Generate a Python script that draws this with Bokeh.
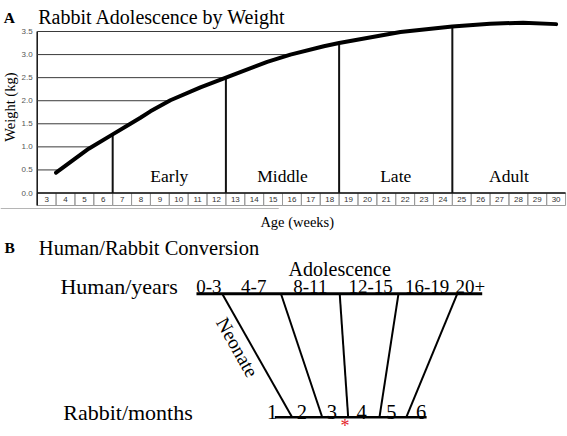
import numpy as np
from bokeh.plotting import figure
from bokeh.models import Range1d
from bokeh.core.properties import value
from bokeh.embed import file_html
from bokeh.resources import INLINE

# ---------------- Panel A data ----------------
curve_week = [3.5, 5.23, 6.5, 7.44, 7.97, 8.5, 9.56, 11.15, 12.5, 14.69, 15.92,
              17.69, 18.5, 21.75, 24.5, 26.5, 28.25, 30.0]
curve_weight = [0.44, 0.96, 1.27, 1.50, 1.63, 1.77, 2.01, 2.29, 2.50, 2.84, 3.00,
                3.18, 3.25, 3.49, 3.61, 3.67, 3.69, 3.66]
weeks = list(range(3, 31))
week_labels = [str(w) for w in weeks]
weight_ticks = [0.0, 0.5, 1.0, 1.5, 2.0, 2.5, 3.0, 3.5]
weight_tick_labels = ["%.1f" % t for t in weight_ticks]
phase_names = ["Early", "Middle", "Late", "Adult"]
phase_start = [6.5, 12.5, 18.5, 24.5]
phase_end = [12.5, 18.5, 24.5, 30.5]

# ---------------- Panel B data ----------------
human_ranges = ["0-3", "4-7", "8-11", "12-15", "16-19", "20+"]
human_label_age = [3.1, 6.15, 10.0, 14.1, 17.95, 20.9]
human_boundary_age = [4, 8, 12, 16, 20]
human_line_extent = [2.25, 21.7]
rabbit_months = [1, 2, 3, 4, 5, 6]
rabbit_labels = [str(m) for m in rabbit_months]
rabbit_boundary_month = [1.67, 2.68, 3.55, 4.6, 5.5]
rabbit_line_extent = [1.09, 6.18]
highlight_month = 3.44

SERIF = "Liberation Serif"
SANS = "Liberation Sans"
W, H = 567, 436

# Panel A scales (weeks / kg) span the whole canvas
x_lo, x_hi = weeks[0] - 0.5, weeks[-1] + 0.5
y_lo = -0.271          # bottom of the week cells
ax_x0, ax_x1 = 0.555, 30.603
ax_y0, ax_y1 = -5.277, 4.172

p = figure(width=W, height=H, x_range=Range1d(ax_x0, ax_x1), y_range=Range1d(ax_y0, ax_y1),
           output_backend="svg", toolbar_location=None, x_axis_type=None, y_axis_type=None,
           min_border=0, min_border_left=0, min_border_right=0, min_border_top=0, min_border_bottom=0)
p.outline_line_color = None
p.grid.visible = False
p.background_fill_color = "white"
p.border_fill_color = "white"

# Panel B scales (human age / link height)
bx_lo, bx_hi = -11.09, 27.506
by_lo, by_hi = -0.1564, 3.3768
p.extra_x_ranges = {"bx": Range1d(bx_lo, bx_hi)}
p.extra_y_ranges = {"by": Range1d(by_lo, by_hi)}
B = dict(x_range_name="bx", y_range_name="by")

# ================= Panel A =================
p.rect(x=weeks, y=y_lo / 2, width=1, height=-y_lo, fill_color=None,
       line_color="#9a9a9a", line_width=1)
p.text(x=weeks, y=y_lo / 2, text=week_labels, text_align="center", text_baseline="middle",
       text_font=value(SANS), text_font_size="8px", text_color="#333333")
# faint rule under the week strip
p.segment(x0=[ax_x0], y0=[-0.336], x1=[15.3], y1=[-0.336], line_color="#b5b5b5", line_width=1)

# y axis line + tick labels
p.segment(x0=[x_lo], y0=[y_lo], x1=[x_lo], y1=[weight_ticks[-1]], line_color="#111111", line_width=1.5)
p.text(x=[x_lo] * len(weight_ticks), y=weight_ticks, x_offset=-4.5, text=weight_tick_labels,
       text_align="right", text_baseline="middle", text_font=value(SANS), text_font_size="8px",
       text_color="#555555")

# horizontal guide lines from axis to curve
peak = int(np.argmax(curve_weight))
levels = weight_ticks[1:]
x_cross = np.interp(levels, curve_weight[:peak + 1], curve_week[:peak + 1])
p.segment(x0=[x_lo] * len(levels), y0=levels, x1=list(x_cross), y1=levels,
          line_color="#3a3a3a", line_width=1)
p.segment(x0=[x_lo], y0=[0], x1=[x_hi], y1=[0], line_color="#111111", line_width=1.5)

# phase boundaries up to the curve
top = np.interp(phase_start, curve_week, curve_weight)
p.segment(x0=phase_start, y0=[0] * 4, x1=phase_start, y1=list(top),
          line_color="#111111", line_width=2)

# growth curve
p.line(curve_week, curve_weight, line_color="black", line_width=4, line_join="round", line_cap="round")

# phase labels
phase_mid = [(s + e) / 2 for s, e in zip(phase_start, phase_end)]
p.text(x=phase_mid, y=[0.364] * 4, text=phase_names, text_align="center",
       text_baseline="alphabetic", text_font=value(SERIF), text_font_size="17.5px", text_color="black")

# titles and axis labels
p.text(x=[x_lo], y=[3.804], x_offset=1, text=["Rabbit Adolescence by Weight"], text_align="left",
       text_baseline="alphabetic", text_font=value(SERIF), text_font_size="20px", text_color="black")
p.text(x=[0.73], y=[3.797], text=["A"], text_align="left", text_baseline="alphabetic",
       text_font=value(SERIF), text_font_size="15.5px", text_font_style="bold", text_color="black")
p.text(x=[1.058], y=[1.86], text=["Weight (kg)"], angle=np.pi / 2, text_align="center",
       text_baseline="middle", text_font=value(SERIF), text_font_size="14.5px", text_color="black")
p.text(x=[16.28], y=[-0.618], text=["Age (weeks)"],
       text_align="center", text_baseline="alphabetic", text_font=value(SERIF),
       text_font_size="14.5px", text_color="black")

# ================= Panel B =================
R0, DU = 5.37, 2.03  # rabbit month -> position on the human-age scale


def rabbit_pos(m):
    return R0 + DU * np.asarray(m, dtype=float)


p.segment(x0=[human_line_extent[0]], y0=[1], x1=[human_line_extent[1]], y1=[1],
          line_color="black", line_width=3, **B)
rb = rabbit_pos(rabbit_line_extent)
p.segment(x0=[rb[0]], y0=[0], x1=[rb[1]], y1=[0], line_color="black", line_width=2.5, **B)

rbound = rabbit_pos(rabbit_boundary_month)
p.segment(x0=human_boundary_age, y0=[1] * 5, x1=list(rbound), y1=[0] * 5,
          line_color="black", line_width=2, **B)

p.text(x=human_label_age, y=[1.057] * 6, text=human_ranges, text_align="center",
       text_baseline="alphabetic", text_font=value(SERIF), text_font_size="19px",
       text_color="black", **B)
p.text(x=list(rabbit_pos(rabbit_months)), y=[0.0405] * 6, text=rabbit_labels, text_align="center",
       text_baseline="alphabetic", text_font=value(SERIF), text_font_size="20.5px",
       text_color="black", **B)
p.text(x=[-7.01], y=[1.057], text=["Human/years"], text_align="left", text_baseline="alphabetic",
       text_font=value(SERIF), text_font_size="22px", text_color="black", **B)
p.text(x=[-6.82], y=[0.0405], text=["Rabbit/months"], text_align="left", text_baseline="alphabetic",
       text_font=value(SERIF), text_font_size="22px", text_color="black", **B)
p.text(x=[human_boundary_age[2]], y=[1.197], text=["Adolescence"], text_align="center",
       text_baseline="alphabetic", text_font=value(SERIF), text_font_size="20px",
       text_color="black", **B)
p.text(x=[-10.82], y=[1.375], text=["B"], text_align="left", text_baseline="alphabetic",
       text_font=value(SERIF), text_font_size="15.5px", text_font_style="bold", text_color="black", **B)
p.text(x=[-8.48], y=[1.375], text=["Human/Rabbit Conversion"], text_align="left",
       text_baseline="alphabetic", text_font=value(SERIF), text_font_size="20.5px",
       text_color="black", **B)

# Neonate along the first connector
px_u = W / (bx_hi - bx_lo)
px_y = H / (by_hi - by_lo)
dxu = rbound[0] - human_boundary_age[0]
ang = -np.arctan2(1 * px_y, dxu * px_u)
yn = 0.567
un = human_boundary_age[0] + (1 - yn) * dxu
p.text(x=[un], y=[yn], x_offset=-15.3, text=["Neonate"], angle=ang, text_align="center",
       text_baseline="middle", text_font=value(SERIF), text_font_size="19.5px", text_color="black", **B)

# red asterisk under rabbit month 3 (kept inside the canvas)
p.text(x=list(rabbit_pos([highlight_month])), y=[-0.0713], text=["*"], text_align="center",
       text_baseline="middle", text_font=value(SERIF), text_font_size="18px",
       text_color="#e3242b", **B)

open("out.html", "w").write(file_html(p, INLINE))
